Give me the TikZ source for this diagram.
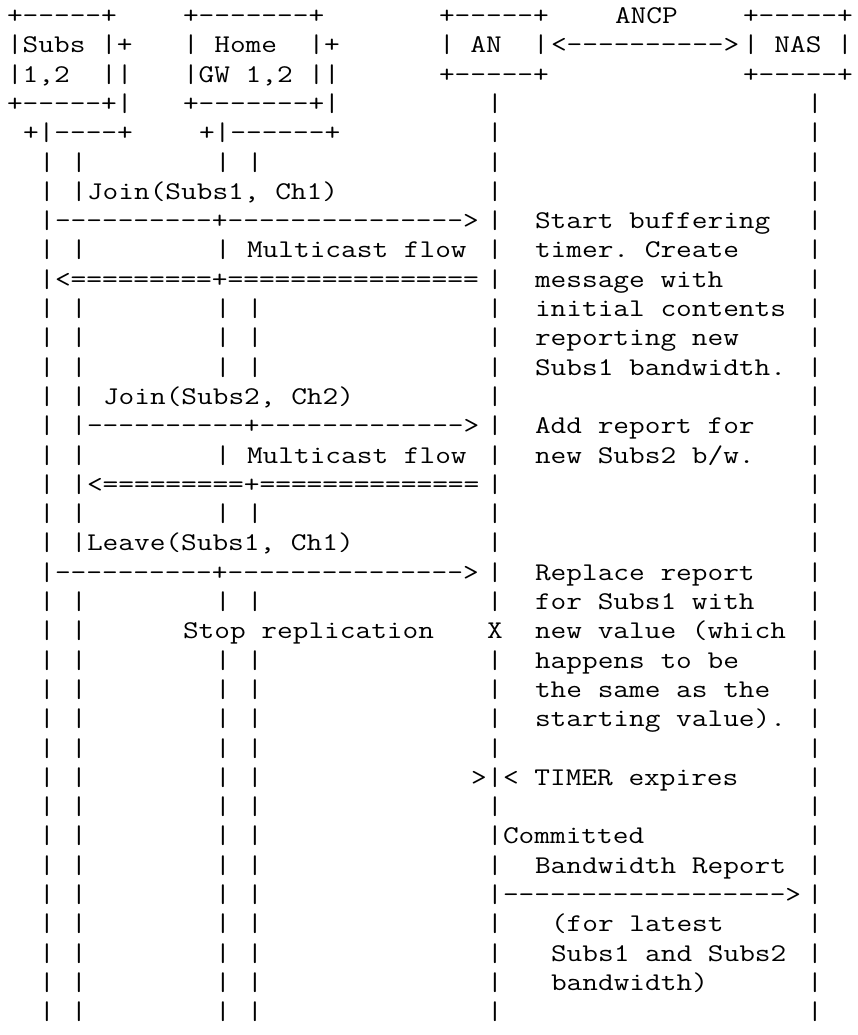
\documentclass[tikz,border=0pt]{standalone}
\usepackage{fontspec}
\setmonofont{Latin Modern Mono}[FakeStretch=1.195]
\newcommand\rfcfont{\ttfamily\fontsize{25.5pt}{29.3pt}\selectfont}
\tikzset{asc/.style={anchor=base west,inner sep=0pt,outer sep=0pt,font=\rfcfont}}
\begin{document}
\begin{tikzpicture}[x=16pt,y=-29.3pt]
  \useasboundingbox (-0.4375,0.198) rectangle (53.1875,35.522);
  \node[asc] (subs1) at (0,1) {+-----+};
  \node[asc] (subs2) at (0,2) {|Subs~|+};
  \node[asc] (subs3) at (0,3) {|1,2~~||};
  \node[asc] (subs4) at (0,4) {+-----+|};
  \node[asc] (subs5) at (1,5) {+|----+};
  \node[asc] (home1) at (11,1) {+-------+};
  \node[asc] (home2) at (11,2) {|~Home~~|+};
  \node[asc] (home3) at (11,3) {|GW~1,2~||};
  \node[asc] (home4) at (11,4) {+-------+|};
  \node[asc] (home5) at (12,5) {+|------+};
  \node[asc] (an1) at (27,1) {+-----+};
  \node[asc] (an2) at (27,2) {|~AN~~|};
  \node[asc] (an3) at (27,3) {+-----+};
  \node[asc] (ancp) at (38,1) {ANCP};
  \node[asc] (ancparr) at (34,2) {<---------->};
  \node[asc] (nas1) at (46,1) {+-----+};
  \node[asc] (nas2) at (46,2) {|~NAS~|};
  \node[asc] (nas3) at (46,3) {+-----+};
  \foreach \r in {6,7,...,35}
    \node[asc] (subsa\r) at (2,\r) {|};
  \foreach \r in {6,7,9,11,12,...,19,21,22,...,35}
    \node[asc] (subsb\r) at (4,\r) {|};
  \foreach \r in {6,9,11,12,13,16,18,21,23,24,...,35}
    \node[asc] (homea\r) at (13,\r) {|};
  \foreach \r in {6,11,12,13,18,21,23,24,...,35}
    \node[asc] (homeb\r) at (15,\r) {|};
  \foreach \r in {4,5,...,21,23,24,...,35}
    \node[asc] (anl\r) at (30,\r) {|};
  \foreach \r in {4,5,...,35}
    \node[asc] (nasl\r) at (50,\r) {|};
  \node[asc] (join1) at (5,7) {Join(Subs1,~Ch1)};
  \node[asc] (join1arr) at (3,8) {----------+--------------->};
  \node[asc] (flow1) at (15,9) {Multicast~flow};
  \node[asc] (flow1arr) at (3,10) {<=========+================};
  \node[asc] (join2) at (6,14) {Join(Subs2,~Ch2)};
  \node[asc] (join2arr) at (5,15) {----------+------------->};
  \node[asc] (flow2) at (15,16) {Multicast~flow};
  \node[asc] (flow2arr) at (5,17) {<=========+==============};
  \node[asc] (leave1) at (5,19) {Leave(Subs1,~Ch1)};
  \node[asc] (leave1arr) at (3,20) {----------+--------------->};
  \node[asc] (stop) at (11,22) {Stop~replication};
  \node[asc] (stopx) at (30,22) {X};
  \node[asc] (timer) at (29,27) {>};
  \node[asc] (timerlbl) at (31,27) {<~TIMER~expires};
  \node[asc] (cbr1) at (31,29) {Committed};
  \node[asc] (cbr2) at (33,30) {Bandwidth~Report};
  \node[asc] (cbrarr) at (31,31) {------------------>};
  \node[asc] (cbr3) at (34,32) {(for~latest};
  \node[asc] (cbr4) at (34,33) {Subs1~and~Subs2};
  \node[asc] (cbr5) at (34,34) {bandwidth)};
  \node[asc] (note1) at (33,8) {Start~buffering};
  \node[asc] (note2) at (33,9) {timer.~Create};
  \node[asc] (note3) at (33,10) {message~with};
  \node[asc] (note4) at (33,11) {initial~contents};
  \node[asc] (note5) at (33,12) {reporting~new};
  \node[asc] (note6) at (33,13) {Subs1~bandwidth.};
  \node[asc] (note7) at (33,15) {Add~report~for};
  \node[asc] (note8) at (33,16) {new~Subs2~b/w.};
  \node[asc] (note9) at (33,20) {Replace~report};
  \node[asc] (note10) at (33,21) {for~Subs1~with};
  \node[asc] (note11) at (33,22) {new~value~(which};
  \node[asc] (note12) at (33,23) {happens~to~be};
  \node[asc] (note13) at (33,24) {the~same~as~the};
  \node[asc] (note14) at (33,25) {starting~value).};
\end{tikzpicture}
\end{document}
